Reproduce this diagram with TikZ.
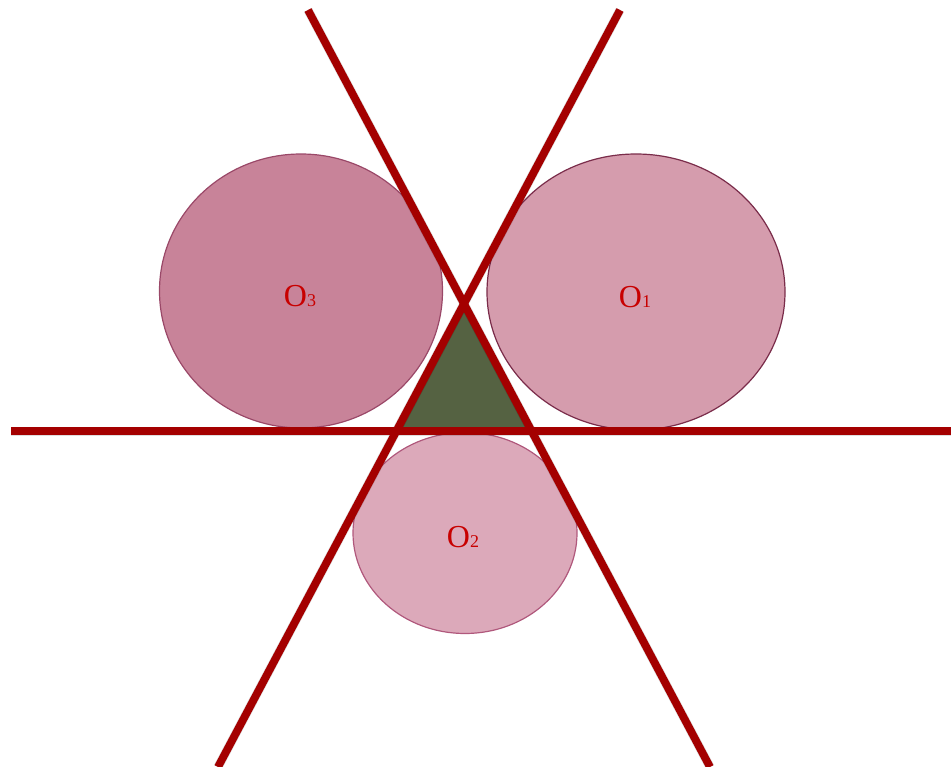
\documentclass[tikz,border=0pt]{standalone}
\usepackage{fontspec}
\setmainfont{Liberation Serif}
\usetikzlibrary{shapes.geometric}
\definecolor{redline}{HTML}{A40000}
\definecolor{labelred}{HTML}{C80000}
\definecolor{fillA}{HTML}{D59CAD}
\definecolor{fillB}{HTML}{DCA9BA}
\definecolor{fillC}{HTML}{C88399}
\definecolor{edgeA}{HTML}{7A2C4A}
\definecolor{edgeB}{HTML}{B0587C}
\definecolor{edgeC}{HTML}{9A4868}
\definecolor{trifill}{HTML}{556242}
\newcommand{\olabel}[1]{{\fontsize{32}{32}\selectfont O\fontsize{18}{18}\selectfont #1}}
\tikzset{
  circ/.style={ellipse, inner sep=0pt, line width=1.2pt},
  lbl/.style={text=labelred, inner sep=0pt},
  redl/.style={draw=redline, line width=7.8pt},
  shad/.style={draw=black, opacity=0.13, line width=9pt},
}
\begin{document}
\begin{tikzpicture}[x=1pt,y=-1pt]
\useasboundingbox (0,0) rectangle (951,767);
% circles
\node[circ, draw=edgeC, fill=fillC, minimum width=283pt, minimum height=274pt] (O3) at (301,291) {};
\node[circ, draw=edgeA, fill=fillA, minimum width=298pt, minimum height=276pt] (O1) at (636,292) {};
\node[circ, draw=edgeB, fill=fillB, minimum width=224pt, minimum height=201pt] (O2) at (465,533) {};
\node[lbl] (L3) at ([shift={(-1,5)}]O3.center) {\olabel{3}};
\node[lbl] (L1) at ([shift={(-1,5)}]O1.center) {\olabel{1}};
\node[lbl] (L2) at ([shift={(-2,4)}]O2.center) {\olabel{2}};
% line end points
\coordinate (A1) at (308,10);
\coordinate (A2) at (710,767);
\coordinate (B1) at (620,10);
\coordinate (B2) at (218,767);
\coordinate (H1) at (11,431);
\coordinate (H2) at (951,431);
% triangle
\fill[trifill] (intersection of A1--A2 and B1--B2) -- (intersection of A1--A2 and H1--H2) -- (intersection of B1--B2 and H1--H2) -- cycle;
% shadows
\begin{scope}[shift={(2,4)}]
\draw[shad] (A1) -- (A2);
\draw[shad] (B1) -- (B2);
\draw[shad] (H1) -- (H2);
\end{scope}
% lines
\draw[redl] (A1) -- (A2);
\draw[redl] (B1) -- (B2);
\draw[redl] (H1) -- (H2);
\end{tikzpicture}
\end{document}
